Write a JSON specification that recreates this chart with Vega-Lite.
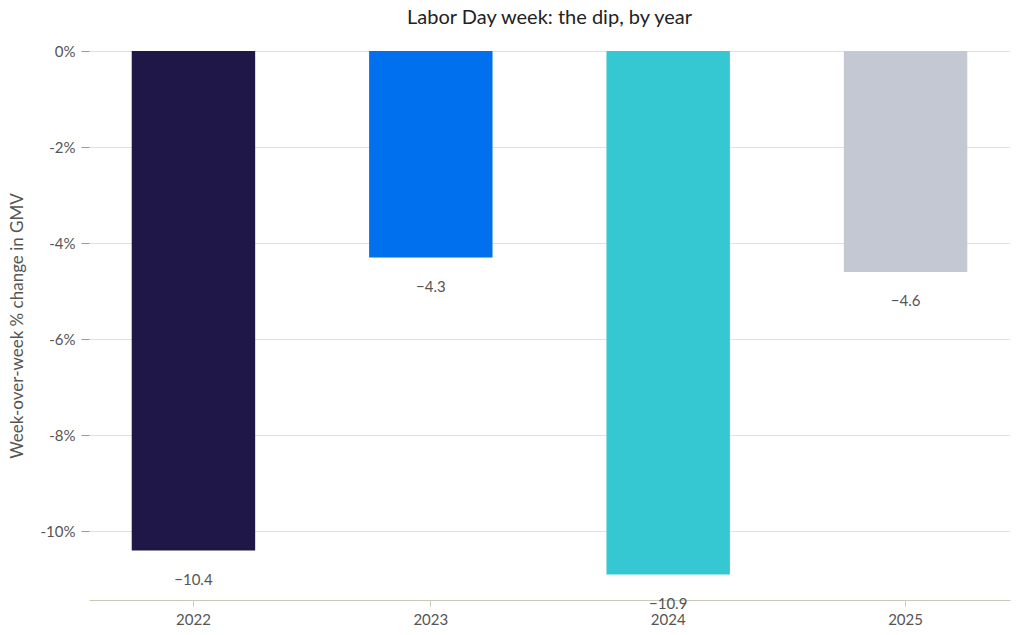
{
  "$schema": "https://vega.github.io/schema/vega-lite/v6.json",
  "width": 1024,
  "height": 635,
  "autosize": {"type": "fit", "contains": "padding"},
  "padding": {"left": 8, "right": 14, "top": 8, "bottom": 8},
  "background": "white",
  "config": {
    "font": "Lato",
    "view": {"stroke": null},
    "title": {"fontSize": 20, "fontWeight": "normal", "color": "#222222", "offset": 16}
  },
  "title": "Labor Day week: the dip, by year",
  "data": {
    "values": [
      {"year": "2022", "change": -10.4},
      {"year": "2023", "change": -4.3},
      {"year": "2024", "change": -10.9},
      {"year": "2025", "change": -4.6}
    ]
  },
  "encoding": {
    "x": {
      "field": "year",
      "type": "ordinal",
      "title": null,
      "scale": {"paddingInner": 0.48, "paddingOuter": 0.18},
      "axis": {"labelAngle": 0, "labelFontSize": 15, "labelColor": "#555555", "domainColor": "#C9C9B8", "tickColor": "#C9C9B8", "tickSize": 6, "labelPadding": 6, "orient": "bottom"}
    },
    "y": {
      "field": "change",
      "type": "quantitative",
      "title": "Week-over-week % change in GMV",
      "scale": {"domain": [-11.43, 0], "nice": false},
      "axis": {"values": [0, -2, -4, -6, -8, -10], "labelExpr": "datum.value + '%'", "labelFontSize": 15, "labelColor": "#555555", "titleFontSize": 17, "titleFontWeight": "normal", "titleColor": "#555555", "domain": false, "tickColor": "#999999", "tickSize": 8, "gridColor": "#E3E3D3", "labelPadding": 6, "titlePadding": 14}
    }
  },
  "layer": [
    {
      "mark": {"type": "bar"},
      "encoding": {
        "color": {"field": "year", "type": "nominal", "legend": null, "scale": {"range": ["#1F1747", "#0070EE", "#35C8D2", "#C4C8D3"]}}
      }
    },
    {
      "mark": {"type": "text", "baseline": "top", "dy": 22, "fontSize": 15, "color": "#555555"},
      "encoding": {"text": {"field": "change", "type": "quantitative", "format": ".1f"}}
    }
  ],
  "resolve": {}
}
